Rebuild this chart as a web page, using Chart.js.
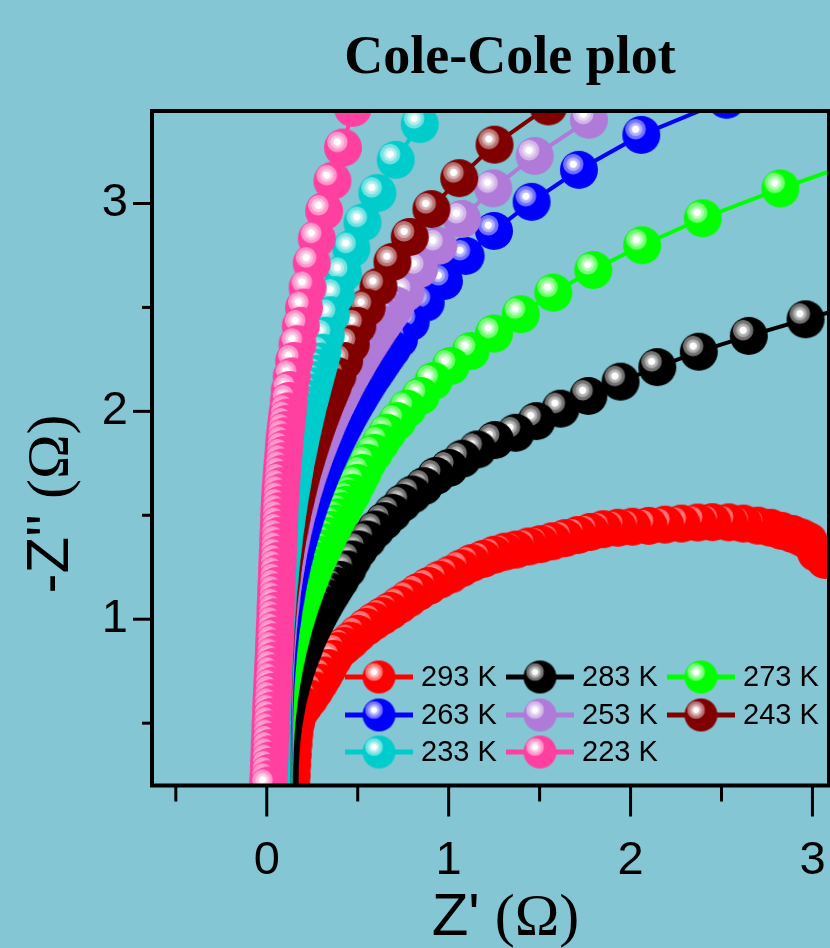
<!DOCTYPE html>
<html><head><meta charset="utf-8">
<script src="https://cdn.jsdelivr.net/npm/chart.js@4.4.1/dist/chart.umd.min.js"></script>
<style>html,body{margin:0;padding:0;background:#84c6d4;overflow:hidden}canvas{display:block}</style>
</head><body>
<canvas id="c" width="830" height="948"></canvas>
<script>
// ---------- data (Z' and -Z'' in ohm), listed from high to low frequency ----------
const temps  = ['293 K','283 K','273 K','263 K','253 K','243 K','233 K','223 K'];
const colors = ['#ff0000','#000000','#00ff00','#0000ff','#b07ad8','#800000','#00cccc','#ff40a0'];

const zRe293 = [0.135,0.137,0.140,0.143,0.147,0.152,0.160,0.176,0.205,0.235,0.264,0.290,0.314,0.337,0.365,0.392,0.425,0.460,0.500,0.547,0.590,0.635,0.680,0.730,0.780,0.833,0.890,0.950,1.010,1.070,1.126,1.190,1.250,1.310,1.370,1.440,1.505,1.570,1.640,1.710,1.780,1.850,1.930,2.010,2.100,2.190,2.280,2.370,2.450,2.540,2.620,2.700,2.770,2.830,2.890,2.940,2.980,3.020,3.070];
const zIm293 = [0.20,0.25,0.30,0.35,0.40,0.45,0.50,0.547,0.585,0.620,0.658,0.695,0.730,0.765,0.810,0.847,0.872,0.897,0.930,0.963,0.990,1.015,1.040,1.070,1.100,1.131,1.160,1.190,1.215,1.245,1.270,1.290,1.310,1.325,1.335,1.350,1.361,1.375,1.390,1.405,1.420,1.433,1.440,1.445,1.449,1.455,1.460,1.465,1.467,1.466,1.460,1.450,1.440,1.425,1.410,1.393,1.375,1.320,1.285];

const zRe283 = [0.070,0.070,0.071,0.071,0.073,0.075,0.077,0.080,0.084,0.088,0.092,0.098,0.104,0.111,0.118,0.126,0.135,0.144,0.155,0.166,0.178,0.191,0.204,0.217,0.232,0.248,0.265,0.282,0.300,0.319,0.339,0.360,0.381,0.404,
  0.443,0.471,0.507,0.553,0.599,0.645,0.691,0.746,0.801,0.864,0.929,1.002,1.075,1.158,1.254,1.368,1.482,1.615,1.768,1.945,2.147,2.375,2.650,2.962,3.300];
const zIm283 = [0.20,0.23,0.26,0.29,0.32,0.35,0.38,0.41,0.44,0.47,0.50,0.53,0.56,0.59,0.62,0.65,0.68,0.71,0.74,0.77,0.80,0.83,0.86,0.89,0.92,0.95,0.98,1.01,1.04,1.07,1.10,1.13,1.16,1.19,
  1.240,1.288,1.336,1.384,1.432,1.472,1.512,1.560,1.600,1.640,1.689,1.728,1.772,1.817,1.862,1.897,1.953,2.013,2.074,2.143,2.213,2.287,2.363,2.443,2.530];

const zRe273 = [0.040,0.040,0.040,0.041,0.042,0.043,0.044,0.046,0.048,0.050,0.053,0.056,0.060,0.064,0.068,0.073,0.078,0.084,0.090,0.096,0.103,0.110,0.118,0.126,0.135,0.144,0.153,0.164,0.174,0.185,0.197,0.209,0.221,0.235,0.248,0.262,0.277,0.292,0.308,0.324,0.340,0.357,0.375,0.393,0.413,0.432,0.451,
  0.471,0.498,0.526,0.553,0.590,0.626,0.663,0.718,0.773,0.846,0.916,1.011,1.121,1.249,1.396,1.575,1.795,2.064,2.397,2.824,3.310];
const zIm273 = [0.20,0.23,0.26,0.29,0.32,0.35,0.38,0.41,0.44,0.47,0.50,0.53,0.56,0.59,0.62,0.65,0.68,0.71,0.74,0.77,0.80,0.83,0.86,0.89,0.92,0.95,0.98,1.01,1.04,1.07,1.10,1.13,1.16,1.19,1.22,1.25,1.28,1.31,1.34,1.37,1.40,1.43,1.46,1.49,1.52,1.55,1.58,
  1.608,1.656,1.704,1.753,1.801,1.849,1.897,1.953,2.013,2.074,2.146,2.218,2.290,2.374,2.467,2.571,2.680,2.799,2.929,3.072,3.220];

const zRe263 = [0.036,0.036,0.036,0.036,0.036,0.037,0.037,0.037,0.038,0.039,0.040,0.041,0.042,0.043,0.045,0.046,0.048,0.051,0.053,0.056,0.059,0.062,0.065,0.069,0.073,0.077,0.082,0.087,0.091,0.097,0.103,0.109,0.115,0.122,0.130,0.137,0.145,0.154,0.162,0.172,0.181,0.191,0.202,0.212,0.224,0.235,0.247,0.260,0.273,0.286,0.300,0.314,0.329,0.345,0.361,0.377,0.394,0.411,0.429,0.447,0.466,0.486,0.506,0.526,0.547,0.569,0.592,0.615,0.638,0.662,0.687,
  0.727,0.791,0.874,0.974,1.093,1.249,1.456,1.716,2.059,2.527,3.050];
const zIm263 = [0.20,0.23,0.26,0.29,0.32,0.35,0.38,0.41,0.44,0.47,0.50,0.53,0.56,0.59,0.62,0.65,0.68,0.71,0.74,0.77,0.80,0.83,0.86,0.89,0.92,0.95,0.98,1.01,1.04,1.07,1.10,1.13,1.16,1.19,1.22,1.25,1.28,1.31,1.34,1.37,1.40,1.43,1.46,1.49,1.52,1.55,1.58,1.61,1.64,1.67,1.70,1.73,1.76,1.79,1.82,1.85,1.88,1.91,1.94,1.97,2.00,2.03,2.06,2.09,2.12,2.15,2.18,2.21,2.24,2.27,2.30,
  2.347,2.430,2.523,2.627,2.748,2.868,3.008,3.162,3.330,3.499,3.680];

const zRe253 = [0.035,0.035,0.035,0.035,0.035,0.035,0.036,0.036,0.036,0.037,0.037,0.038,0.038,0.039,0.040,0.041,0.042,0.044,0.045,0.047,0.049,0.051,0.053,0.056,0.059,0.061,0.065,0.068,0.072,0.076,0.080,0.084,0.089,0.094,0.099,0.105,0.111,0.117,0.123,0.130,0.137,0.145,0.153,0.161,0.170,0.179,0.188,0.197,0.208,0.218,0.229,0.241,0.253,0.265,0.278,0.291,0.305,0.319,0.333,0.348,0.364,0.380,0.397,0.414,0.431,0.449,0.468,0.488,0.507,0.528,0.548,0.570,0.592,0.614,0.638,0.661,0.686,0.710,
  0.764,0.837,0.943,1.073,1.245,1.473,1.771,2.100];
const zIm253 = [0.20,0.23,0.26,0.29,0.32,0.35,0.38,0.41,0.44,0.47,0.50,0.53,0.56,0.59,0.62,0.65,0.68,0.71,0.74,0.77,0.80,0.83,0.86,0.89,0.92,0.95,0.98,1.01,1.04,1.07,1.10,1.13,1.16,1.19,1.22,1.25,1.28,1.31,1.34,1.37,1.40,1.43,1.46,1.49,1.52,1.55,1.58,1.61,1.64,1.67,1.70,1.73,1.76,1.79,1.82,1.85,1.88,1.91,1.94,1.97,2.00,2.03,2.06,2.09,2.12,2.15,2.18,2.21,2.24,2.27,2.30,2.33,2.36,2.39,2.42,2.45,2.48,2.51,
  2.571,2.684,2.796,2.926,3.073,3.229,3.403,3.590];

const zRe243 = [0.030,0.030,0.030,0.030,0.030,0.030,0.031,0.031,0.031,0.032,0.032,0.033,0.033,0.034,0.034,0.035,0.036,0.037,0.039,0.040,0.042,0.044,0.046,0.048,0.050,0.053,0.055,0.058,0.061,0.064,0.068,0.072,0.076,0.081,0.085,0.089,0.094,0.100,0.105,0.111,0.117,0.124,0.130,0.137,0.144,0.152,0.160,0.168,0.176,0.185,0.194,0.204,0.214,0.224,0.235,0.246,0.257,0.269,0.281,0.294,0.307,0.320,0.334,0.348,0.363,
  0.388,0.425,0.462,0.498,0.549,0.614,0.691,0.786,0.905,1.058,1.252,1.548];
const zIm243 = [0.20,0.23,0.26,0.29,0.32,0.35,0.38,0.41,0.44,0.47,0.50,0.53,0.56,0.59,0.62,0.65,0.68,0.71,0.74,0.77,0.80,0.83,0.86,0.89,0.92,0.95,0.98,1.01,1.04,1.07,1.10,1.13,1.16,1.19,1.22,1.25,1.28,1.31,1.34,1.37,1.40,1.43,1.46,1.49,1.52,1.55,1.58,1.61,1.64,1.67,1.70,1.73,1.76,1.79,1.82,1.85,1.88,1.91,1.94,1.97,2.00,2.03,2.06,2.09,2.12,
  2.170,2.242,2.323,2.411,2.499,2.600,2.719,2.839,2.973,3.122,3.283,3.467];

const zRe233 = [0.027,0.027,0.027,0.027,0.027,0.027,0.028,0.028,0.028,0.028,0.029,0.030,0.030,0.031,0.032,0.033,0.034,0.035,0.037,0.038,0.039,0.041,0.043,0.044,0.046,0.048,0.050,0.053,0.055,0.058,0.060,0.063,0.066,0.070,0.073,0.076,0.080,0.084,0.088,0.092,0.096,0.101,0.106,0.110,0.115,0.120,0.125,0.131,0.137,0.143,0.149,0.155,0.161,0.168,0.175,0.182,0.189,0.197,0.204,0.212,0.220,0.228,0.237,0.246,0.255,0.264,0.273,0.282,0.292,
  0.306,0.324,0.352,0.379,0.419,0.465,0.526,0.608,0.709,0.841];
const zIm233 = [0.20,0.23,0.26,0.29,0.32,0.35,0.38,0.41,0.44,0.47,0.50,0.53,0.56,0.59,0.62,0.65,0.68,0.71,0.74,0.77,0.80,0.83,0.86,0.89,0.92,0.95,0.98,1.01,1.04,1.07,1.10,1.13,1.16,1.19,1.22,1.25,1.28,1.31,1.34,1.37,1.40,1.43,1.46,1.49,1.52,1.55,1.58,1.61,1.64,1.67,1.70,1.73,1.76,1.79,1.82,1.85,1.88,1.91,1.94,1.97,2.00,2.03,2.06,2.09,2.12,2.15,2.18,2.21,2.24,
  2.282,2.363,2.462,2.559,2.664,2.783,2.908,3.050,3.210,3.382];

const zRe223 = [0.008,0.009,0.011,0.012,0.013,0.015,0.016,0.017,0.019,0.020,0.021,0.023,0.024,0.025,0.027,0.029,0.030,0.032,0.034,0.035,0.037,0.039,0.040,0.041,0.043,0.044,0.045,0.047,0.048,0.049,0.051,0.052,0.053,0.055,0.056,0.057,0.059,0.060,0.062,0.063,0.064,0.066,0.067,0.068,0.069,0.071,0.073,0.075,0.077,0.080,0.082,0.085,0.088,0.091,0.094,0.096,0.099,0.103,0.107,0.111,0.115,
  0.121,0.126,0.137,0.150,0.169,0.187,0.205,0.224,0.247,0.275,0.315,0.361,0.419,0.473];
const zIm223 = [0.20,0.23,0.26,0.29,0.32,0.35,0.38,0.41,0.44,0.47,0.50,0.53,0.56,0.59,0.62,0.65,0.68,0.71,0.74,0.77,0.80,0.83,0.86,0.89,0.92,0.95,0.98,1.01,1.04,1.07,1.10,1.13,1.16,1.19,1.22,1.25,1.28,1.31,1.34,1.37,1.40,1.43,1.46,1.49,1.52,1.55,1.58,1.61,1.64,1.67,1.70,1.73,1.76,1.79,1.82,1.85,1.88,1.91,1.94,1.97,2.00,
  2.050,2.103,2.168,2.242,2.323,2.411,2.499,2.596,2.713,2.831,2.964,3.109,3.269,3.460];

const seriesRe = [zRe293,zRe283,zRe273,zRe263,zRe253,zRe243,zRe233,zRe223];
const seriesIm = [zIm293,zIm283,zIm273,zIm263,zIm253,zIm243,zIm233,zIm223];

// axes
const xRange = [-0.631, 3.091];
const yRange = [0.2, 3.445];
const xTickLabels = ['0','1','2','3'];
const yTickLabels = ['1','2','3'];
const chartTitle = 'Cole-Cole plot';

// ---------- styling ----------
const BG = '#84c6d4';
function hexRgb(h){h=h.replace('#','');return [0,2,4].map(i=>parseInt(h.substr(i,2),16));}
function mix(h,t){const c=hexRgb(h);return 'rgb('+c.map(v=>Math.round(v+(255-v)*t)).join(',')+')';}
function makeBall(color,r){
  const s=Math.ceil(r*2)+2, cv=document.createElement('canvas'); cv.width=s; cv.height=s;
  const g=cv.getContext('2d'), c=s/2;
  g.beginPath(); g.arc(c,c,r,0,Math.PI*2); g.fillStyle=color; g.fill();
  const hx=c-0.3*r, hy=c-0.3*r, R=0.56*r;
  const gr=g.createRadialGradient(hx,hy,0,hx,hy,R);
  gr.addColorStop(0,'#ffffff'); gr.addColorStop(0.3,'#ffffff');
  gr.addColorStop(0.38,mix(color,0.75)); gr.addColorStop(0.6,mix(color,0.65));
  gr.addColorStop(0.68,mix(color,0.48)); gr.addColorStop(0.92,mix(color,0.42));
  gr.addColorStop(1,mix(color,0));
  g.beginPath(); g.arc(hx,hy,R,0,Math.PI*2); g.fillStyle=gr; g.fill();
  return cv;
}
const balls = colors.map(c=>makeBall(c,19));
const legendBalls = colors.map(c=>makeBall(c,16.5));

const isInt = v => Math.abs(v-Math.round(v))<1e-6;

const datasets = temps.map((t,i)=>({
  label:t,
  data: seriesRe[i].map((x,k)=>({x:x,y:seriesIm[i][k]})).reverse(),
  showLine:true, borderColor:colors[i], borderWidth:4, tension:0,
  pointStyle:balls[i], pointRadius:19, pointHoverRadius:19, pointBorderWidth:0,
  order: temps.length-1-i, clip:0
}));

const SANS='"Liberation Sans", Arial, sans-serif', SERIF='"Liberation Serif", "Times New Roman", serif';

const deco = {
  id:'deco',
  beforeDraw(chart){const c=chart.ctx;c.save();c.fillStyle=BG;c.fillRect(0,0,chart.width,chart.height);c.restore();},
  afterDatasetsDraw(chart){
    const c=chart.ctx, a=chart.chartArea, xs=chart.scales.x, ys=chart.scales.y;
    c.save();
    c.strokeStyle='#000'; c.lineWidth=4;
    c.strokeRect(a.left,a.top,a.right-a.left,a.bottom-a.top);
    c.lineWidth=3;
    xs.ticks.forEach(t=>{const p=xs.getPixelForValue(t.value);const L=isInt(t.value)?31:16;
      c.beginPath();c.moveTo(p,a.bottom);c.lineTo(p,a.bottom+L);c.stroke();});
    ys.ticks.forEach(t=>{const p=ys.getPixelForValue(t.value);const L=isInt(t.value)?19:10;
      c.beginPath();c.moveTo(a.left,p);c.lineTo(a.left-L,p);c.stroke();});
    c.restore();
  },
  afterDraw(chart){
    const c=chart.ctx;
    c.save();
    // legend
    const colX=[345,506,667], rowY=[677,715,752];
    temps.forEach((t,i)=>{
      const x0=colX[i%3], y=rowY[Math.floor(i/3)];
      c.strokeStyle=colors[i]; c.lineWidth=5;
      c.beginPath(); c.moveTo(x0,y); c.lineTo(x0+68,y); c.stroke();
      const b=legendBalls[i]; c.drawImage(b,x0+34-b.width/2,y-b.height/2);
      c.fillStyle='#000'; c.font='29px '+SANS; c.textAlign='left'; c.textBaseline='middle';
      c.fillText(t,x0+76,y+1);
    });
    // title
    c.fillStyle='#000'; c.textBaseline='alphabetic'; c.textAlign='center';
    c.font='bold 54px '+SERIF; c.fillText(chartTitle,510,73);
    // x title
    c.textAlign='left';
    const p1="Z'", p2=" (\u03A9)";
    c.font='60px '+SANS; const w1=c.measureText(p1).width;
    c.font='60px '+SERIF; const w2=c.measureText(p2).width;
    let x0=505.5-(w1+w2)/2;
    c.font='60px '+SANS; c.fillText(p1,x0,935);
    c.font='60px '+SERIF; c.fillText(p2,x0+w1,935);
    // y title
    const q1="-Z''", q2=" (\u03A9)";
    c.font='60px '+SANS; const v1=c.measureText(q1).width;
    c.font='60px '+SERIF; const v2=c.measureText(q2).width;
    c.translate(68,504); c.rotate(-Math.PI/2);
    const s0=-(v1+v2)/2;
    c.font='60px '+SANS; c.fillText(q1,s0,0);
    c.font='60px '+SERIF; c.fillText(q2,s0+v1,0);
    c.restore();
  }
};

new Chart(document.getElementById('c'),{
  type:'scatter',
  data:{datasets},
  options:{
    responsive:false, animation:false, events:[],
    layout:{autoPadding:false,padding:{top:111,right:1,left:0,bottom:0}},
    plugins:{legend:{display:false},tooltip:{enabled:false},title:{display:false}},
    scales:{
      x:{type:'linear',min:xRange[0],max:xRange[1],
        afterFit:s=>{s.height=162.5;s.paddingLeft=0;s.paddingRight=0;},
        grid:{display:false,drawTicks:true,tickLength:47}, border:{display:false},
        ticks:{stepSize:0.5,includeBounds:false,autoSkip:false,maxRotation:0,minRotation:0,padding:0,color:'#000',
          font:{family:SANS,size:47},
          callback:v=>{if(!isInt(v))return '';const s=String(Math.round(v));return xTickLabels.includes(s)?s:'';}}},
      y:{type:'linear',min:yRange[0],max:yRange[1],
        afterFit:s=>{s.width=152;s.paddingTop=0;s.paddingBottom=0;},
        grid:{display:false,drawTicks:true,tickLength:24}, border:{display:false},
        ticks:{stepSize:0.5,includeBounds:false,autoSkip:false,padding:0,color:'#000',
          font:{family:SANS,size:47},
          callback:v=>{if(!isInt(v))return '';const s=String(Math.round(v));return yTickLabels.includes(s)?s:'';}}}
    }
  },
  plugins:[deco]
});
</script></body></html>
